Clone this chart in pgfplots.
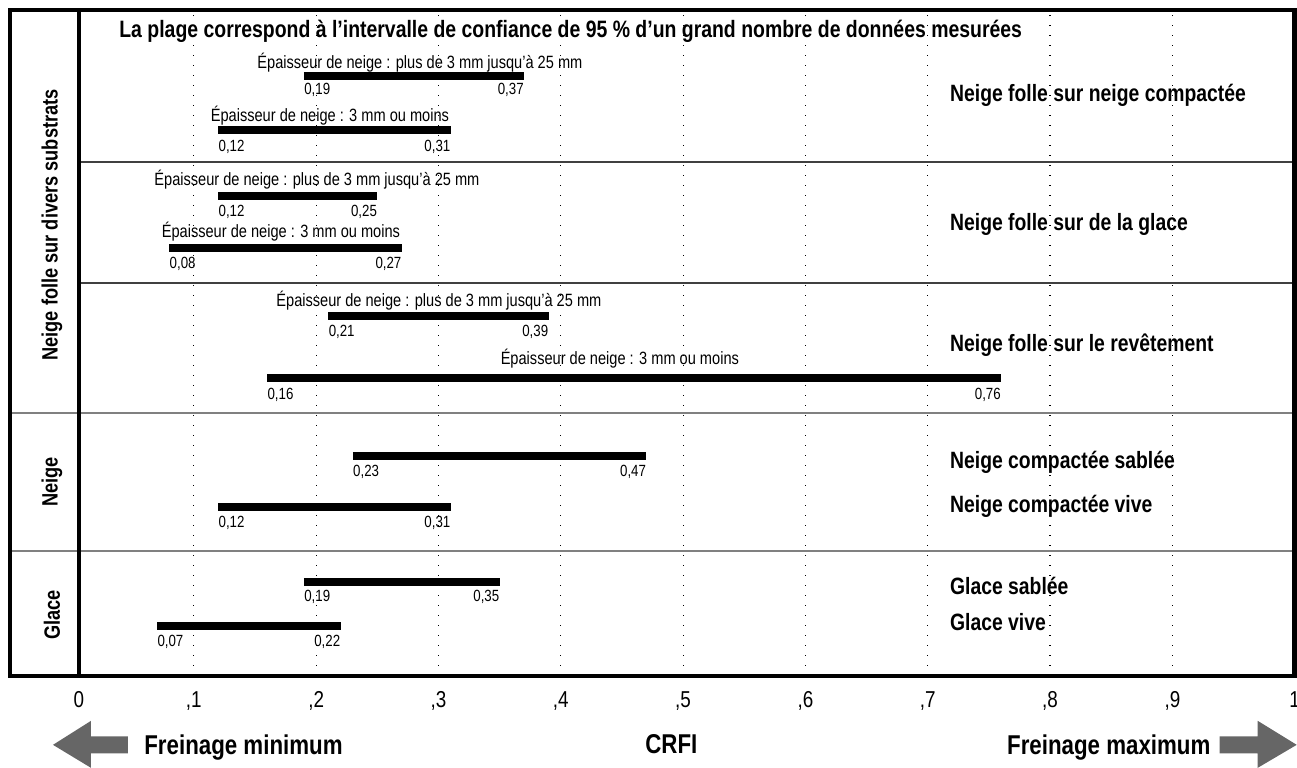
\documentclass[border=0pt]{standalone}
\usepackage{fontspec}
\IfFontExistsTF{Liberation Sans Narrow}{\setmainfont{Liberation Sans Narrow}}{\setmainfont{Liberation Sans}[FakeStretch=0.82]}
\usepackage{pgfplots}
\pgfplotsset{compat=1.18}
\definecolor{arrowgray}{HTML}{666666}
\pgfplotsset{
  bar/.style={black, line width=3.7pt, mark=none, forget plot},
}
\tikzset{
  sm/.style={font=\fontsize{8.9}{10}\selectfont, inner sep=0pt},
  vl/.style={font=\fontsize{8.1}{10}\selectfont, inner sep=0pt},
  rl/.style={font=\fontsize{11.8}{14}\selectfont\bfseries, inner sep=0pt, anchor=base west},
  ll/.style={font=\fontsize{11.1}{13}\selectfont\bfseries, inner sep=0pt, rotate=90},
  bt/.style={font=\fontsize{13.6}{16}\selectfont\bfseries, inner sep=0pt},
}
\begin{document}
\begin{tikzpicture}
\begin{axis}[
  scale only axis, width=608pt, height=333pt,
  xmin=0.00613, xmax=1, ymin=-676, ymax=-10,
  axis line style={draw=none},
  major tick length=0pt,
  xtick={0.00613,0.1,0.2,0.3,0.4,0.5,0.6,0.7,0.8,0.9,1},
  xticklabels={0,{,1},{,2},{,3},{,4},{,5},{,6},{,7},{,8},{,9},1},
  ytick=\empty,
  xmajorgrids,
  grid style={black, line width=0.6pt, dash pattern=on 0.6pt off 4.4pt},
  xticklabel style={font=\fontsize{11.5}{13}\selectfont, inner sep=0pt, yshift=-7.5pt, overlay},
  clip=false,
]
% bounding box
\path (axis cs:-0.05844,0) rectangle (axis cs:1.00164,-768);
% dividers
\draw[black!75, line width=0.6pt] (axis cs:0.00613,-162) -- (axis cs:1,-162);
\draw[black!75, line width=0.6pt] (axis cs:0.00613,-283) -- (axis cs:1,-283);
\draw[black!50, line width=1.2pt] (axis cs:-0.05027,-413) -- (axis cs:1,-413);
\draw[black!50, line width=1.2pt] (axis cs:-0.05027,-551) -- (axis cs:1,-551);
% frame
\draw[black, line width=2.3pt] (axis cs:0.00613,-10) -- (axis cs:0.00613,-676);
\draw[black, line width=2.3pt] (axis cs:-0.05027,-10) rectangle (axis cs:1,-676);

% bars
\addplot[bar] coordinates {(0.19,-76) (0.37,-76)};
\addplot[bar] coordinates {(0.12,-130) (0.31,-130)};
\addplot[bar] coordinates {(0.12,-196) (0.25,-196)};
\addplot[bar] coordinates {(0.08,-248) (0.27,-248)};
\addplot[bar] coordinates {(0.21,-316) (0.39,-316)};
\addplot[bar] coordinates {(0.16,-378) (0.76,-378)};
\addplot[bar] coordinates {(0.23,-456) (0.47,-456)};
\addplot[bar] coordinates {(0.12,-507) (0.31,-507)};
\addplot[bar] coordinates {(0.19,-582) (0.35,-582)};
\addplot[bar] coordinates {(0.07,-626) (0.22,-626)};

% value labels
\node[vl, anchor=base west] at (axis cs:0.19,-95) {0,19};
\node[vl, anchor=base east] at (axis cs:0.37,-95) {0,37};
\node[vl, anchor=base west] at (axis cs:0.12,-151.7) {0,12};
\node[vl, anchor=base east] at (axis cs:0.31,-151.7) {0,31};
\node[vl, anchor=base west] at (axis cs:0.12,-216.7) {0,12};
\node[vl, anchor=base east] at (axis cs:0.25,-216.7) {0,25};
\node[vl, anchor=base west] at (axis cs:0.08,-269) {0,08};
\node[vl, anchor=base east] at (axis cs:0.27,-269) {0,27};
\node[vl, anchor=base west] at (axis cs:0.21,-336.7) {0,21};
\node[vl, anchor=base east] at (axis cs:0.39,-336.7) {0,39};
\node[vl, anchor=base west] at (axis cs:0.16,-400) {0,16};
\node[vl, anchor=base east] at (axis cs:0.76,-400) {0,76};
\node[vl, anchor=base west] at (axis cs:0.23,-477) {0,23};
\node[vl, anchor=base east] at (axis cs:0.47,-477) {0,47};
\node[vl, anchor=base west] at (axis cs:0.12,-528) {0,12};
\node[vl, anchor=base east] at (axis cs:0.31,-528) {0,31};
\node[vl, anchor=base west] at (axis cs:0.19,-602) {0,19};
\node[vl, anchor=base east] at (axis cs:0.35,-602) {0,35};
\node[vl, anchor=base west] at (axis cs:0.07,-646.7) {0,07};
\node[vl, anchor=base east] at (axis cs:0.22,-646.7) {0,22};

% thickness captions
\node[sm, anchor=base] at (axis cs:0.28484,-68.3) {Épaisseur de neige : plus de 3 mm jusqu'à 25 mm};
\node[sm, anchor=base] at (axis cs:0.21128,-121.7) {Épaisseur de neige : 3 mm ou moins};
\node[sm, anchor=base] at (axis cs:0.20065,-186) {Épaisseur de neige : plus de 3 mm jusqu'à 25 mm};
\node[sm, anchor=base] at (axis cs:0.17123,-238) {Épaisseur de neige : 3 mm ou moins};
\node[sm, anchor=base] at (axis cs:0.30037,-306.7) {Épaisseur de neige : plus de 3 mm jusqu'à 25 mm};
\node[sm, anchor=base] at (axis cs:0.44830,-365) {Épaisseur de neige : 3 mm ou moins};

% title
\node[font=\fontsize{11.85}{14}\selectfont\bfseries, inner sep=0pt, anchor=base west] at (axis cs:0.03882,-37.7) {La plage correspond à l’intervalle de confiance de 95 \% d’un grand nombre de données mesurées};

% right labels
\node[rl] at (axis cs:0.7180,-101.7) {Neige folle sur neige compactée};
\node[rl] at (axis cs:0.7180,-231) {Neige folle sur de la glace};
\node[rl] at (axis cs:0.7180,-351.7) {Neige folle sur le revêtement};
\node[rl] at (axis cs:0.7180,-469) {Neige compactée sablée};
\node[rl] at (axis cs:0.7180,-513) {Neige compactée vive};
\node[rl] at (axis cs:0.7180,-594.7) {Glace sablée};
\node[rl] at (axis cs:0.7180,-631) {Glace vive};

% left labels
\node[ll] at (axis cs:-0.0160,-225) {Neige folle sur divers substrats};
\node[ll] at (axis cs:-0.0160,-482) {Neige};
\node[ll] at (axis cs:-0.0160,-615) {Glace};

% bottom
\node[bt, anchor=base west] at (axis cs:0.05926,-755) {Freinage minimum};
\node[bt, anchor=base] at (axis cs:0.49040,-754) {CRFI};
\node[bt, anchor=base west] at (axis cs:0.76461,-755) {Freinage maximum};
\fill[arrowgray] (axis cs:0.04618,-736.5) -- (axis cs:0.01594,-736.5) -- (axis cs:0.01594,-721) -- (axis cs:-0.01512,-745) -- (axis cs:0.01594,-768) -- (axis cs:0.01594,-753.5) -- (axis cs:0.04618,-753.5) -- cycle;
\fill[arrowgray] (axis cs:0.93870,-736.5) -- (axis cs:0.96976,-736.5) -- (axis cs:0.96976,-721) -- (axis cs:1.00164,-745) -- (axis cs:0.96976,-768) -- (axis cs:0.96976,-753.5) -- (axis cs:0.93870,-753.5) -- cycle;
\end{axis}
\end{tikzpicture}
\end{document}
